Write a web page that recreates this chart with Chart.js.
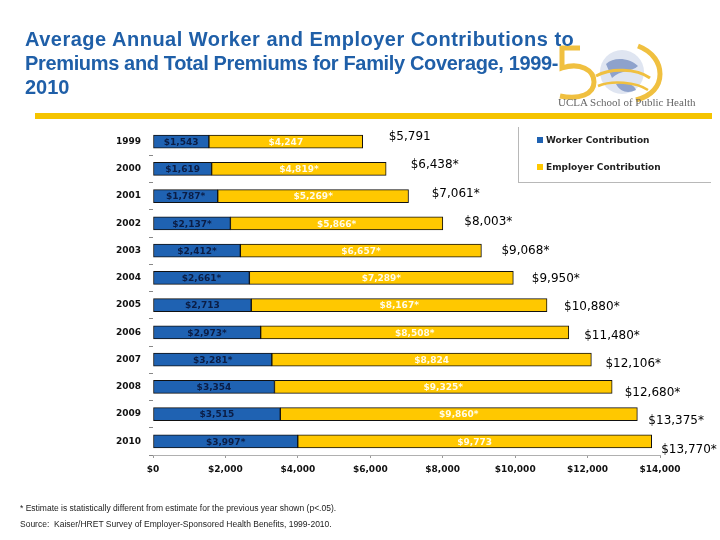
<!DOCTYPE html>
<html>
<head>
<meta charset="utf-8">
<script src="https://cdn.jsdelivr.net/npm/chart.js@4/dist/chart.umd.min.js"></script>
<style>
  html, body { margin: 0; padding: 0; background: #fff; }
  #wrap { position: relative; width: 720px; height: 540px; overflow: hidden; }
  #chart { position: absolute; left: 0; top: 0; }
  #title { position: absolute; left: 25px; top: 27px; width: 600px; font-family: "Liberation Sans", Arial, sans-serif; font-weight: bold; font-size: 20px; line-height: 24px; color: #1f5fa8; white-space: nowrap; z-index: 2; }
  #title .l1 { letter-spacing: 0.5px; }
  #title .l2 { letter-spacing: -0.35px; }
  #rule { position: absolute; left: 35px; top: 113px; width: 677px; height: 6px; background: #f5c400; }
  #logo { position: absolute; left: 550px; top: 42px; }
  #ucla { position: absolute; left: 558px; top: 96px; font-family: "Liberation Serif", serif; font-size: 11px; color: #666; white-space: nowrap; }
  #legend { position: absolute; left: 518px; top: 127px; width: 192px; height: 55px; border-left: 1px solid #b8b8b8; border-bottom: 1px solid #b8b8b8; font-family: "DejaVu Sans", Verdana, sans-serif; font-weight: bold; font-size: 9px; color: #222; }
  .li { position: absolute; left: 18px; white-space: nowrap; }
  .sw { display: inline-block; width: 6px; height: 6px; margin-right: 3px; vertical-align: 0px; }
  #notes { position: absolute; left: 20px; top: 500px; font-family: "Liberation Sans", Arial, sans-serif; font-size: 8.5px; color: #222; white-space: pre; line-height: 16px; }
</style>
</head>
<body>
<div id="wrap">
  <canvas id="chart" width="720" height="540"></canvas>
  <svg id="logo" width="120" height="60" viewBox="0 0 120 60">
    <path d="M30 6 H12 V26 C30 20 44 28 44 40 C44 52 30 58 10 54" fill="none" stroke="#f0c040" stroke-width="5"/>
    <path d="M88 4 C104 10 110 22 110 32 C110 44 102 54 86 58" fill="none" stroke="#f0c040" stroke-width="5"/>
    <circle cx="72" cy="30" r="22" fill="#dfe5f1"/>
    <path d="M56 22 C64 14 80 16 88 24 C82 30 70 28 62 36 Z" fill="#8ea2cc"/>
    <path d="M66 42 C74 38 84 42 86 48 C78 52 70 50 66 42 Z" fill="#8ea2cc"/>
    <path d="M46 34 C60 26 86 26 100 36" fill="none" stroke="#f0c040" stroke-width="3"/>
    <path d="M48 44 C62 38 86 40 98 48" fill="none" stroke="#f0c040" stroke-width="2.5"/>
  </svg>
  <div id="title"><span class="l1">Average Annual Worker and Employer Contributions to</span><br><span class="l2">Premiums and Total Premiums for Family Coverage, 1999-</span><br>2010</div>
  <div id="ucla">UCLA School of Public Health</div>
  <div id="rule"></div>
  <div id="legend"></div>
  <div id="notes">* Estimate is statistically different from estimate for the previous year shown (p&lt;.05).
Source:  Kaiser/HRET Survey of Employer-Sponsored Health Benefits, 1999-2010.</div>
</div>
<script>
const years = ["1999","2000","2001","2002","2003","2004","2005","2006","2007","2008","2009","2010"];
const workerValues = [1543,1619,1787,2137,2412,2661,2713,2973,3281,3354,3515,3997];
const employerValues = [4247,4819,5269,5866,6657,7289,8167,8508,8824,9325,9860,9773];
const totalValues = [5791,6438,7061,8003,9068,9950,10880,11480,12106,12680,13375,13770];
const workerLabels = ["$1,543","$1,619","$1,787*","$2,137*","$2,412*","$2,661*","$2,713","$2,973*","$3,281*","$3,354","$3,515","$3,997*"];
const employerLabels = ["$4,247","$4,819*","$5,269*","$5,866*","$6,657*","$7,289*","$8,167*","$8,508*","$8,824","$9,325*","$9,860*","$9,773"];
const totalLabels = ["$5,791","$6,438*","$7,061*","$8,003*","$9,068*","$9,950*","$10,880*","$11,480*","$12,106*","$12,680*","$13,375*","$13,770*"];
const xTickLabels = ["$0","$2,000","$4,000","$6,000","$8,000","$10,000","$12,000","$14,000"];
const seriesNames = ["Worker Contribution","Employer Contribution"];

const BLUE = "#1f62b2";
const YELLOW = "#ffc800";

const barLabels = {
  id: "barLabels",
  afterDatasetsDraw(chart) {
    const ctx = chart.ctx;
    const xs = chart.scales.x, ys = chart.scales.y;
    ctx.save();
    ctx.textBaseline = "middle";
    const segs = [
      {ds: 0, labels: workerLabels, color: "#0b1d45"},
      {ds: 1, labels: employerLabels, color: "#fffbe8"}
    ];
    ctx.font = "bold 9px 'DejaVu Sans', Verdana, sans-serif";
    ctx.textAlign = "center";
    segs.forEach(s => {
      const meta = chart.getDatasetMeta(s.ds);
      meta.data.forEach((el, i) => {
        const left = Math.min(el.x, el.base), right = Math.max(el.x, el.base);
        ctx.fillStyle = s.color;
        ctx.fillText(s.labels[i], (left + right) / 2, el.y + 1);
      });
    });
    ctx.font = "12px 'DejaVu Sans', Verdana, sans-serif";
    ctx.textAlign = "left";
    ctx.fillStyle = "#000";
    totalValues.forEach((v, i) => {
      ctx.fillText(totalLabels[i], xs.getPixelForValue(v) + 26 - i * 1.5, ys.getPixelForValue(i) - 5 + i * 1.2);
    });
    ctx.restore();
  }
};

const chart = new Chart(document.getElementById("chart"), {
  type: "bar",
  data: {
    labels: years,
    datasets: [
      { label: seriesNames[0], data: workerValues, backgroundColor: BLUE, borderColor: "#111", borderWidth: 1, borderSkipped: false, barThickness: 13 },
      { label: seriesNames[1], data: employerValues, backgroundColor: YELLOW, borderColor: "#111", borderWidth: 1, borderSkipped: false, barThickness: 13 }
    ]
  },
  options: {
    indexAxis: "y",
    responsive: false,
    animation: false,
    devicePixelRatio: 1,
    layout: { padding: { left: 0, top: 128, right: 60, bottom: 55 } },
    plugins: { legend: { display: false }, tooltip: { enabled: false } },
    scales: {
      x: {
        stacked: true,
        min: 0, max: 14000,
        ticks: {
          stepSize: 2000,
          padding: 6,
          color: "#111",
          font: { family: "'DejaVu Sans', Verdana, sans-serif", size: 9, weight: "bold" },
          callback: (v, i) => xTickLabels[i]
        },
        grid: { drawOnChartArea: false, drawTicks: true, tickLength: 3, color: "#999" },
        border: { display: true, color: "#b0b0b0" },
        afterFit: s => { s.height = 30; }
      },
      y: {
        stacked: true,
        ticks: {
          color: "#111",
          padding: 8,
          font: { family: "'DejaVu Sans', Verdana, sans-serif", size: 9, weight: "bold" }
        },
        grid: {
          drawOnChartArea: false, drawTicks: true, tickLength: 4, offset: true,
          color: c => (c.index === 0 || c.index === years.length) ? "rgba(0,0,0,0)" : "#888"
        },
        border: { display: false },
        afterFit: s => { s.width = 153; }
      }
    }
  },
  plugins: [barLabels]
});

const lg = document.getElementById("legend");
chart.data.datasets.forEach((ds, i) => {
  const d = document.createElement("div");
  d.className = "li";
  d.style.top = (8 + i * 27) + "px";
  d.innerHTML = '<span class="sw" style="background:' + ds.backgroundColor + '"></span>' + ds.label;
  lg.appendChild(d);
});
</script>
</body>
</html>
